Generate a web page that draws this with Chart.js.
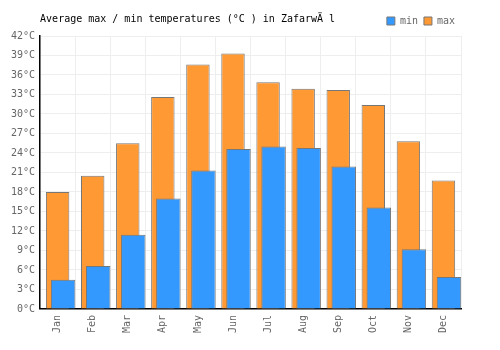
<!DOCTYPE html>
<html>
<head>
<meta charset="utf-8">
<script src="https://cdn.jsdelivr.net/npm/chart.js@4/dist/chart.umd.min.js"></script>
<style>
  body { margin: 0; background: #fff; }
</style>
</head>
<body>
<canvas id="js-chart-temps" width="500" height="350"></canvas>
<script>
// Chart data
const months = ['Jan', 'Feb', 'Mar', 'Apr', 'May', 'Jun', 'Jul', 'Aug', 'Sep', 'Oct', 'Nov', 'Dec'];
const minTemps = [4.5, 6.6, 11.4, 17.0, 21.3, 24.6, 25.0, 24.75, 21.9, 15.6, 9.2, 4.9];
const maxTemps = [18.0, 20.5, 25.5, 32.6, 37.6, 39.3, 34.9, 33.9, 33.7, 31.4, 25.8, 19.75];
const yTicks = [0, 3, 6, 9, 12, 15, 18, 21, 24, 27, 30, 33, 36, 39, 42];

Chart.defaults.font.family = '"DejaVu Sans Mono", monospace';
Chart.defaults.font.size = 10;
Chart.defaults.color = '#666';

let chartCon = document.getElementById('js-chart-temps');

// Two empty datasets only reserve bar slots, so max sits in the middle of the
// category and min is shifted right while still being drawn on top
let chartTemps = new Chart(chartCon, {
  type: 'bar',
  data: {
    labels: months,
    datasets: [
      { data: [], stack: 'pad' },
      { data: [], stack: 'hi' },
      {
        label: 'min',
        stack: 'lo',
        data: minTemps,
        backgroundColor: '#3399ff',
        borderColor: '#777',
        borderWidth: 1,
        categoryPercentage: 0.4714,
        barPercentage: 4.44
      },
      {
        label: 'max',
        stack: 'hi',
        data: maxTemps,
        backgroundColor: '#ff9933',
        borderColor: '#777',
        borderWidth: 1,
        categoryPercentage: 0.4714,
        barPercentage: 4.25
      }
    ]
  },
  options: {
    responsive: false,
    animation: false,
    layout: { padding: { left: 6, right: 39, top: 10, bottom: 11 } },
    scales: {
      x: {
        grid: { color: '#eee', offset: true, drawTicks: false },
        border: { color: '#000', width: 1.5 },
        ticks: { minRotation: 90, maxRotation: 90, padding: 6, color: '#666' }
      },
      y: {
        stacked: false,
        min: 0,
        max: 42,
        afterBuildTicks: (axis) => { axis.ticks = yTicks.map(v => ({ value: v })); },
        grid: { color: '#eee', drawTicks: false },
        border: { color: '#000', width: 1.5 },
        ticks: {
          padding: 5,
          color: '#666',
          callback: (v) => v + '°C'
        }
      }
    },
    plugins: {
      title: {
        display: true,
        fullSize: false,
        text: 'Average max / min temperatures (°C ) in ZafarwÄ l',
        align: 'start',
        color: '#000',
        font: { size: 10, weight: 'normal' },
        padding: { top: 3, bottom: -15 }
      },
      legend: {
        fullSize: false,
        align: 'end',
        labels: {
          filter: (item) => item.text !== undefined,
          boxWidth: 8,
          boxHeight: 8,
          padding: 6,
          color: '#666'
        }
      },
      tooltip: { enabled: false }
    }
  }
});
</script>
</body>
</html>
